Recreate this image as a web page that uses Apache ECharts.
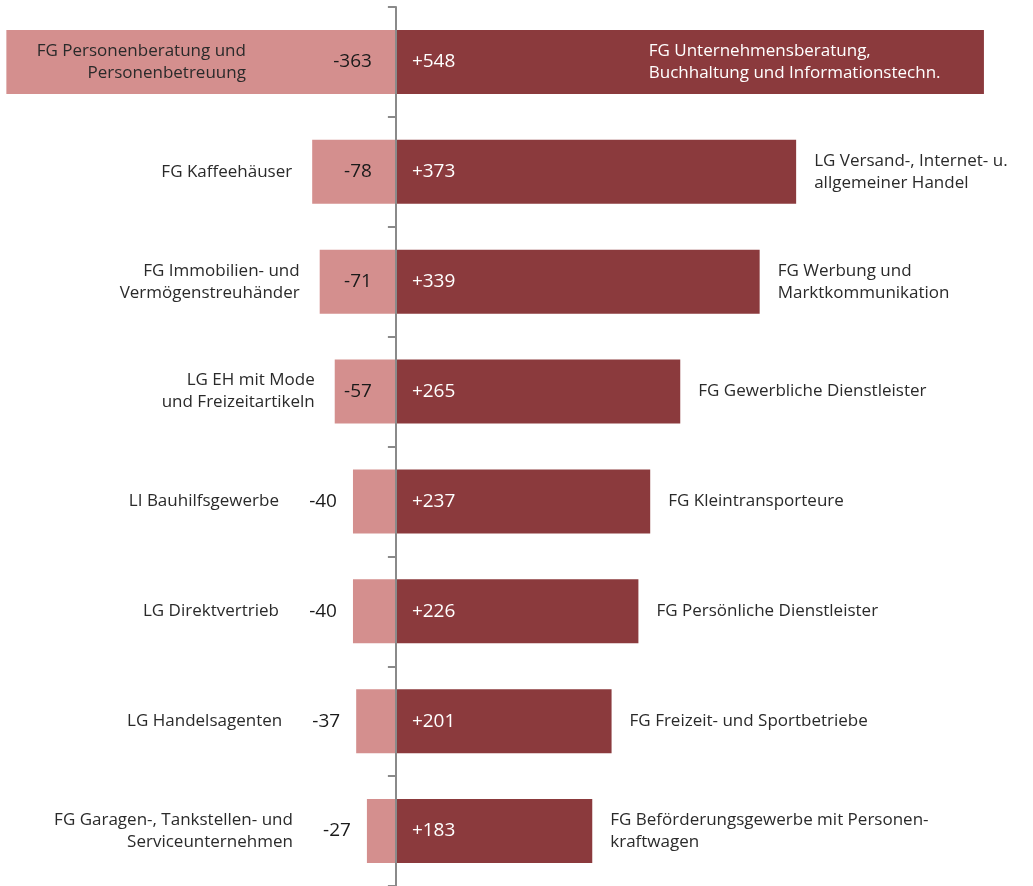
<!DOCTYPE html>
<html>
<head>
<meta charset="utf-8">
<script src="https://cdn.jsdelivr.net/npm/echarts@6/dist/echarts.min.js"></script>
<style>
  html, body { margin: 0; padding: 0; background: #fff; }
  #chart { width: 1033px; height: 886px; }
</style>
</head>
<body>
<div id="chart"></div>
<script>
// left side: losses, right side: gains (one row per pair)
const lossNames = [
  'FG Personenberatung und\nPersonenbetreuung',
  'FG Kaffeehäuser',
  'FG Immobilien- und\nVermögenstreuhänder',
  'LG EH mit Mode\nund Freizeitartikeln',
  'LI Bauhilfsgewerbe',
  'LG Direktvertrieb',
  'LG Handelsagenten',
  'FG Garagen-, Tankstellen- und\nServiceunternehmen'
];
const lossValues = [-363, -78, -71, -57, -40, -40, -37, -27];

const gainNames = [
  'FG Unternehmensberatung,\nBuchhaltung und Informationstechn.',
  'LG Versand-, Internet- u.\nallgemeiner Handel',
  'FG Werbung und\nMarktkommunikation',
  'FG Gewerbliche Dienstleister',
  'FG Kleintransporteure',
  'FG Persönliche Dienstleister',
  'FG Freizeit- und Sportbetriebe',
  'FG Beförderungsgewerbe mit Personen-\nkraftwagen'
];
const gainValues = [548, 373, 339, 265, 237, 226, 201, 183];

const rows = lossValues.map((v, i) => 'r' + i);

const PINK = '#d48f8e';
const DARK = '#8b3a3d';
const FONT = '"Open Sans"';

const chart = echarts.init(document.getElementById('chart'));

// small bars get their number outside the bar
const isWide = v => Math.abs(v) >= 50;

const lossBars = lossValues.map(v => ({
  value: v,
  label: isWide(v)
    ? { position: 'insideRight', distance: 24 }
    : { position: 'left', distance: 16 }
}));

const lossLabels = lossValues.map((v, i) => ({
  value: v,
  label: i === 0
    ? { position: 'insideRight', distance: 150 }
    : { position: 'left', distance: isWide(v) ? 20 : 74 }
}));

const gainLabels = gainValues.map((v, i) => ({
  value: v,
  label: i === 0
    ? { position: ['43%', '50%'], align: 'left', verticalAlign: 'middle', color: '#fff' }
    : { position: 'right', distance: 18 }
}));

const nameLabel = {
  show: true,
  fontFamily: FONT,
  fontSize: 17,
  lineHeight: 22,
  color: '#2a2a2a'
};

chart.setOption({
  animation: false,
  grid: { left: 1, right: 4, top: 7, bottom: -1, containLabel: false },
  xAxis: {
    type: 'value',
    min: -368,
    max: 590,
    show: false
  },
  yAxis: {
    type: 'category',
    data: rows,
    inverse: true,
    z: 10,
    axisLine: { onZero: true, lineStyle: { color: '#8a8a8a', width: 2 } },
    axisTick: { show: true, length: 8, lineStyle: { color: '#8a8a8a', width: 2 } },
    axisLabel: { show: false }
  },
  series: [
    {
      type: 'bar',
      data: lossBars,
      barWidth: 64,
      barGap: '-100%',
      itemStyle: { color: PINK },
      label: {
        show: true,
        fontFamily: FONT,
        fontSize: 19,
        color: '#1a1a1a',
        formatter: p => String(p.value)
      }
    },
    {
      type: 'bar',
      data: gainValues,
      barWidth: 64,
      barGap: '-100%',
      itemStyle: { color: DARK },
      label: {
        show: true,
        position: 'insideLeft',
        distance: 16,
        fontFamily: FONT,
        fontSize: 19,
        color: '#fff',
        formatter: p => '+' + p.value
      }
    },
    {
      type: 'bar',
      data: lossLabels,
      barWidth: 64,
      barGap: '-100%',
      itemStyle: { color: 'rgba(0,0,0,0)' },
      label: Object.assign({}, nameLabel, { align: 'right', formatter: p => lossNames[p.dataIndex] })
    },
    {
      type: 'bar',
      data: gainLabels,
      barWidth: 64,
      barGap: '-100%',
      itemStyle: { color: 'rgba(0,0,0,0)' },
      label: Object.assign({}, nameLabel, { align: 'left', formatter: p => gainNames[p.dataIndex] })
    }
  ]
});
</script>
</body>
</html>
